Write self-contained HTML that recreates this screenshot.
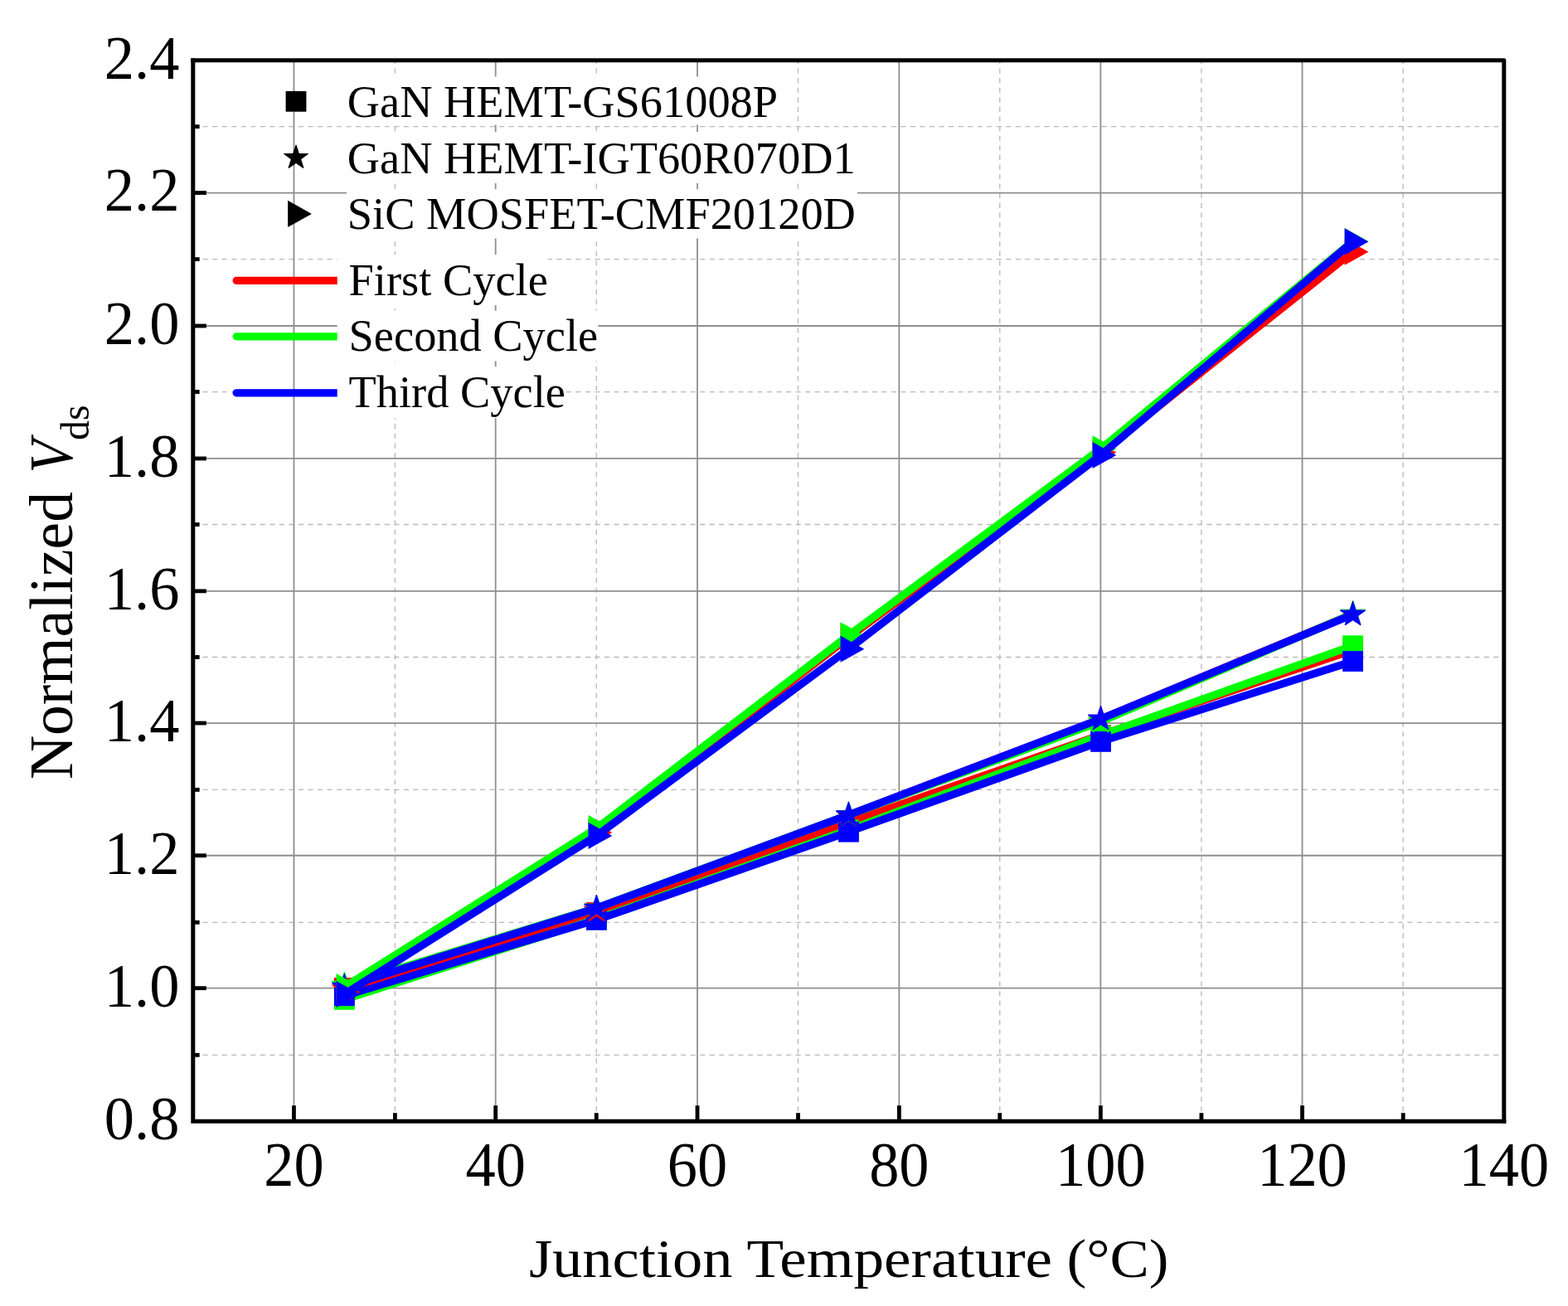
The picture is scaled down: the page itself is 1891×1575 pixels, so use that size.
<!DOCTYPE html>
<html lang="en"><head><meta charset="utf-8"><title>Normalized Vds vs Junction Temperature</title>
<style>html,body{margin:0;padding:0;background:#fff}body{width:1891px;height:1575px;overflow:hidden}svg{display:block}text{font-family:"Liberation Serif","Times New Roman",serif;fill:#000}</style></head><body>
<svg width="1891" height="1575" viewBox="0 0 1891 1575">
<rect width="1891" height="1575" fill="#fff"/>
<g fill="none">
<g stroke="#b9b9b9" stroke-width="1.35">
<line x1="476.40" y1="70.93" x2="476.40" y2="1352.30" stroke-dasharray="6.1 5.49"/>
<line x1="719.26" y1="70.93" x2="719.26" y2="1352.30" stroke-dasharray="6.1 5.49"/>
<line x1="962.49" y1="70.93" x2="962.49" y2="1352.30" stroke-dasharray="6.1 5.49"/>
<line x1="1205.72" y1="70.93" x2="1205.72" y2="1352.30" stroke-dasharray="6.1 5.49"/>
<line x1="1448.90" y1="70.93" x2="1448.90" y2="1352.30" stroke-dasharray="6.1 5.49"/>
<line x1="1692.18" y1="70.93" x2="1692.18" y2="1352.30" stroke-dasharray="6.1 5.49"/>
<line x1="233.07" y1="1272.33" x2="1813.80" y2="1272.33" stroke-dasharray="6.1 5.431"/>
<line x1="233.07" y1="1112.38" x2="1813.80" y2="1112.38" stroke-dasharray="6.1 5.431"/>
<line x1="233.07" y1="952.42" x2="1813.80" y2="952.42" stroke-dasharray="6.1 5.431"/>
<line x1="233.07" y1="792.48" x2="1813.80" y2="792.48" stroke-dasharray="6.1 5.431"/>
<line x1="233.07" y1="632.52" x2="1813.80" y2="632.52" stroke-dasharray="6.1 5.431"/>
<line x1="233.07" y1="472.58" x2="1813.80" y2="472.58" stroke-dasharray="6.1 5.431"/>
<line x1="233.07" y1="312.62" x2="1813.80" y2="312.62" stroke-dasharray="6.1 5.431"/>
<line x1="233.07" y1="152.67" x2="1813.80" y2="152.67" stroke-dasharray="6.1 5.431"/>
</g>
<g stroke="#8e8e8e" stroke-width="1.8">
<line x1="354.45" y1="72.70" x2="354.45" y2="1352.30"/>
<line x1="597.68" y1="72.70" x2="597.68" y2="1352.30"/>
<line x1="841.00" y1="72.70" x2="841.00" y2="1352.30"/>
<line x1="1084.35" y1="72.70" x2="1084.35" y2="1352.30"/>
<line x1="1327.34" y1="72.70" x2="1327.34" y2="1352.30"/>
<line x1="1570.52" y1="72.70" x2="1570.52" y2="1352.30"/>
<line x1="232.80" y1="1191.70" x2="1813.80" y2="1191.70"/>
<line x1="232.80" y1="1031.75" x2="1813.80" y2="1031.75"/>
<line x1="232.80" y1="872.05" x2="1813.80" y2="872.05"/>
<line x1="232.80" y1="712.85" x2="1813.80" y2="712.85"/>
<line x1="232.80" y1="552.95" x2="1813.80" y2="552.95"/>
<line x1="232.80" y1="393.00" x2="1813.80" y2="393.00"/>
<line x1="232.80" y1="232.55" x2="1813.80" y2="232.55"/>
</g></g>
<g stroke-linejoin="round" stroke-linecap="round">
<polyline fill="none" stroke="#ff0000" stroke-width="9.30" points="415.37,1191.40 719.41,1100.50 1023.45,992.00 1327.49,886.40 1631.53,784.00"/>
<g fill="#ff0000"><rect x="402.97" y="1179.00" width="24.80" height="24.80"/><rect x="707.01" y="1088.10" width="24.80" height="24.80"/><rect x="1011.05" y="979.60" width="24.80" height="24.80"/><rect x="1315.09" y="874.00" width="24.80" height="24.80"/><rect x="1619.13" y="771.60" width="24.80" height="24.80"/></g>
<polyline fill="none" stroke="#00ff00" stroke-width="9.30" points="415.37,1205.40 719.41,1108.40 1023.45,1000.80 1327.49,886.90 1631.53,778.70"/>
<g fill="#00ff00"><rect x="402.97" y="1193.00" width="24.80" height="24.80"/><rect x="707.01" y="1096.00" width="24.80" height="24.80"/><rect x="1011.05" y="988.40" width="24.80" height="24.80"/><rect x="1315.09" y="874.50" width="24.80" height="24.80"/><rect x="1619.13" y="766.30" width="24.80" height="24.80"/></g>
<polyline fill="none" stroke="#0000ff" stroke-width="9.30" points="415.37,1200.80 719.41,1109.40 1023.45,1003.20 1327.49,894.40 1631.53,797.50"/>
<g fill="#0000ff"><rect x="402.97" y="1188.40" width="24.80" height="24.80"/><rect x="707.01" y="1097.00" width="24.80" height="24.80"/><rect x="1011.05" y="990.80" width="24.80" height="24.80"/><rect x="1315.09" y="882.00" width="24.80" height="24.80"/><rect x="1619.13" y="785.10" width="24.80" height="24.80"/></g>
<polyline fill="none" stroke="#ff0000" stroke-width="9.30" points="415.37,1192.60 719.41,1098.00 1023.45,983.20 1327.49,867.40 1631.53,740.60"/>
<g fill="#ff0000"><polygon points="414.89,1176.50 415.86,1176.50 419.32,1187.16 430.53,1187.16 430.84,1188.09 421.77,1194.68 425.23,1205.34 424.44,1205.91 415.37,1199.82 406.30,1205.91 405.52,1205.34 408.98,1194.68 399.91,1188.09 400.21,1187.16 411.42,1187.16"/><polygon points="718.92,1081.90 719.90,1081.90 723.36,1092.56 734.57,1092.56 734.87,1093.49 725.81,1100.08 729.27,1110.74 728.48,1111.31 719.41,1105.22 710.34,1111.31 709.55,1110.74 713.02,1100.08 703.95,1093.49 704.25,1092.56 715.46,1092.56"/><polygon points="1022.96,967.10 1023.94,967.10 1027.40,977.76 1038.61,977.76 1038.91,978.69 1029.84,985.28 1033.31,995.94 1032.52,996.51 1023.45,990.42 1014.38,996.51 1013.59,995.94 1017.06,985.28 1007.99,978.69 1008.29,977.76 1019.50,977.76"/><polygon points="1327.00,851.30 1327.98,851.30 1331.44,861.96 1342.65,861.96 1342.95,862.89 1333.88,869.48 1337.35,880.14 1336.56,880.71 1327.49,874.62 1318.42,880.71 1317.63,880.14 1321.09,869.48 1312.03,862.89 1312.33,861.96 1323.54,861.96"/><polygon points="1631.04,724.50 1632.01,724.50 1635.48,735.16 1646.69,735.16 1646.99,736.09 1637.92,742.68 1641.38,753.34 1640.60,753.91 1631.53,747.82 1622.46,753.91 1621.67,753.34 1625.13,742.68 1616.06,736.09 1616.37,735.16 1627.58,735.16"/></g>
<polyline fill="none" stroke="#00ff00" stroke-width="9.30" points="415.37,1188.20 719.41,1095.00 1023.45,982.80 1327.49,870.20 1631.53,740.30"/>
<g fill="#00ff00"><polygon points="414.89,1172.10 415.86,1172.10 419.32,1182.76 430.53,1182.76 430.84,1183.69 421.77,1190.28 425.23,1200.94 424.44,1201.51 415.37,1195.42 406.30,1201.51 405.52,1200.94 408.98,1190.28 399.91,1183.69 400.21,1182.76 411.42,1182.76"/><polygon points="718.92,1078.90 719.90,1078.90 723.36,1089.56 734.57,1089.56 734.87,1090.49 725.81,1097.08 729.27,1107.74 728.48,1108.31 719.41,1102.22 710.34,1108.31 709.55,1107.74 713.02,1097.08 703.95,1090.49 704.25,1089.56 715.46,1089.56"/><polygon points="1022.96,966.70 1023.94,966.70 1027.40,977.36 1038.61,977.36 1038.91,978.29 1029.84,984.88 1033.31,995.54 1032.52,996.11 1023.45,990.02 1014.38,996.11 1013.59,995.54 1017.06,984.88 1007.99,978.29 1008.29,977.36 1019.50,977.36"/><polygon points="1327.00,854.10 1327.98,854.10 1331.44,864.76 1342.65,864.76 1342.95,865.69 1333.88,872.28 1337.35,882.94 1336.56,883.51 1327.49,877.42 1318.42,883.51 1317.63,882.94 1321.09,872.28 1312.03,865.69 1312.33,864.76 1323.54,864.76"/><polygon points="1631.04,724.20 1632.01,724.20 1635.48,734.86 1646.69,734.86 1646.99,735.79 1637.92,742.38 1641.38,753.04 1640.60,753.61 1631.53,747.52 1622.46,753.61 1621.67,753.04 1625.13,742.38 1616.06,735.79 1616.37,734.86 1627.58,734.86"/></g>
<polyline fill="none" stroke="#0000ff" stroke-width="9.30" points="415.37,1190.10 719.41,1095.10 1023.45,982.80 1327.49,867.00 1631.53,741.00"/>
<g fill="#0000ff"><polygon points="414.89,1174.00 415.86,1174.00 419.32,1184.66 430.53,1184.66 430.84,1185.59 421.77,1192.18 425.23,1202.84 424.44,1203.41 415.37,1197.32 406.30,1203.41 405.52,1202.84 408.98,1192.18 399.91,1185.59 400.21,1184.66 411.42,1184.66"/><polygon points="718.92,1079.00 719.90,1079.00 723.36,1089.66 734.57,1089.66 734.87,1090.59 725.81,1097.18 729.27,1107.84 728.48,1108.41 719.41,1102.32 710.34,1108.41 709.55,1107.84 713.02,1097.18 703.95,1090.59 704.25,1089.66 715.46,1089.66"/><polygon points="1022.96,966.70 1023.94,966.70 1027.40,977.36 1038.61,977.36 1038.91,978.29 1029.84,984.88 1033.31,995.54 1032.52,996.11 1023.45,990.02 1014.38,996.11 1013.59,995.54 1017.06,984.88 1007.99,978.29 1008.29,977.36 1019.50,977.36"/><polygon points="1327.00,850.90 1327.98,850.90 1331.44,861.56 1342.65,861.56 1342.95,862.49 1333.88,869.08 1337.35,879.74 1336.56,880.31 1327.49,874.22 1318.42,880.31 1317.63,879.74 1321.09,869.08 1312.03,862.49 1312.33,861.56 1323.54,861.56"/><polygon points="1631.04,724.90 1632.01,724.90 1635.48,735.56 1646.69,735.56 1646.99,736.49 1637.92,743.08 1641.38,753.74 1640.60,754.31 1631.53,748.22 1622.46,754.31 1621.67,753.74 1625.13,743.08 1616.06,736.49 1616.37,735.56 1627.58,735.56"/></g>
<polyline fill="none" stroke="#ff0000" stroke-width="9.30" points="415.37,1196.50 719.41,1004.00 1023.45,768.70 1327.49,545.50 1631.53,303.70"/>
<g fill="#ff0000"><polygon points="405.47,1180.40 434.22,1196.50 405.47,1212.60"/><polygon points="709.51,987.90 738.26,1004.00 709.51,1020.10"/><polygon points="1013.55,752.60 1042.30,768.70 1013.55,784.80"/><polygon points="1317.59,529.40 1346.34,545.50 1317.59,561.60"/><polygon points="1621.63,287.60 1650.38,303.70 1621.63,319.80"/></g>
<polyline fill="none" stroke="#00ff00" stroke-width="9.30" points="415.37,1190.10 719.41,999.00 1023.45,766.30 1327.49,541.30 1631.53,291.00"/>
<g fill="#00ff00"><polygon points="405.47,1174.00 434.22,1190.10 405.47,1206.20"/><polygon points="709.51,982.90 738.26,999.00 709.51,1015.10"/><polygon points="1013.55,750.20 1042.30,766.30 1013.55,782.40"/><polygon points="1317.59,525.20 1346.34,541.30 1317.59,557.40"/><polygon points="1621.63,274.90 1650.38,291.00 1621.63,307.10"/></g>
<polyline fill="none" stroke="#0000ff" stroke-width="9.30" points="415.37,1199.00 719.41,1007.90 1023.45,782.70 1327.49,549.00 1631.53,291.40"/>
<g fill="#0000ff"><polygon points="405.47,1182.90 434.22,1199.00 405.47,1215.10"/><polygon points="709.51,991.80 738.26,1007.90 709.51,1024.00"/><polygon points="1013.55,766.60 1042.30,782.70 1013.55,798.80"/><polygon points="1317.59,532.90 1346.34,549.00 1317.59,565.10"/><polygon points="1621.63,275.30 1650.38,291.40 1621.63,307.50"/></g>
</g>
<g stroke="#000" stroke-width="4.8" fill="none">
<line x1="354.45" y1="1352.30" x2="354.45" y2="1333.25"/>
<line x1="597.68" y1="1352.30" x2="597.68" y2="1333.25"/>
<line x1="841.00" y1="1352.30" x2="841.00" y2="1333.25"/>
<line x1="1084.35" y1="1352.30" x2="1084.35" y2="1333.25"/>
<line x1="1327.34" y1="1352.30" x2="1327.34" y2="1333.25"/>
<line x1="1570.52" y1="1352.30" x2="1570.52" y2="1333.25"/>
<line x1="476.40" y1="1352.30" x2="476.40" y2="1342.2"/>
<line x1="719.26" y1="1352.30" x2="719.26" y2="1342.2"/>
<line x1="962.49" y1="1352.30" x2="962.49" y2="1342.2"/>
<line x1="1205.72" y1="1352.30" x2="1205.72" y2="1342.2"/>
<line x1="1448.90" y1="1352.30" x2="1448.90" y2="1342.2"/>
<line x1="1692.18" y1="1352.30" x2="1692.18" y2="1342.2"/>
<line x1="232.80" y1="1191.70" x2="248.85" y2="1191.70"/>
<line x1="232.80" y1="1031.75" x2="248.85" y2="1031.75"/>
<line x1="232.80" y1="872.05" x2="248.85" y2="872.05"/>
<line x1="232.80" y1="712.85" x2="248.85" y2="712.85"/>
<line x1="232.80" y1="552.95" x2="248.85" y2="552.95"/>
<line x1="232.80" y1="393.00" x2="248.85" y2="393.00"/>
<line x1="232.80" y1="232.55" x2="248.85" y2="232.55"/>
<line x1="232.80" y1="1272.33" x2="240.65" y2="1272.33"/>
<line x1="232.80" y1="1112.38" x2="240.65" y2="1112.38"/>
<line x1="232.80" y1="952.42" x2="240.65" y2="952.42"/>
<line x1="232.80" y1="792.48" x2="240.65" y2="792.48"/>
<line x1="232.80" y1="632.52" x2="240.65" y2="632.52"/>
<line x1="232.80" y1="472.58" x2="240.65" y2="472.58"/>
<line x1="232.80" y1="312.62" x2="240.65" y2="312.62"/>
<line x1="232.80" y1="152.67" x2="240.65" y2="152.67"/>
</g>
<g fill="none" stroke="#000" stroke-width="5.00">
<path d="M230.30 72.70H1813.80V1354.80" stroke-linejoin="round"/>
<path d="M232.80 70.20V1352.30H1816.30" stroke-linejoin="miter"/>
</g>
<g font-size="72.40" text-anchor="middle">
<text transform="translate(171.1,1374.20) scale(1,1.03)">0.8</text>
<text transform="translate(171.1,1213.60) scale(1,1.03)">1.0</text>
<text transform="translate(171.1,1053.65) scale(1,1.03)">1.2</text>
<text transform="translate(171.1,893.95) scale(1,1.03)">1.4</text>
<text transform="translate(171.1,734.75) scale(1,1.03)">1.6</text>
<text transform="translate(171.1,574.85) scale(1,1.03)">1.8</text>
<text transform="translate(171.1,414.90) scale(1,1.03)">2.0</text>
<text transform="translate(171.1,254.45) scale(1,1.03)">2.2</text>
<text transform="translate(171.1,94.60) scale(1,1.03)">2.4</text>
<text transform="translate(354.45,1430) scale(1,1.04)">20</text>
<text transform="translate(597.68,1430) scale(1,1.04)">40</text>
<text transform="translate(841.00,1430) scale(1,1.04)">60</text>
<text transform="translate(1084.35,1430) scale(1,1.04)">80</text>
<text transform="translate(1327.34,1430) scale(1,1.04)">100</text>
<text transform="translate(1570.52,1430) scale(1,1.04)">120</text>
<text transform="translate(1813.80,1430) scale(1,1.04)">140</text>
</g>
<text y="1539.8" font-size="65.4"><tspan x="637.90" textLength="245.70" lengthAdjust="spacingAndGlyphs">Junction</tspan> <tspan x="900.60" textLength="368.50" lengthAdjust="spacingAndGlyphs">Temperature</tspan> <tspan x="1286.50" textLength="123.00" lengthAdjust="spacingAndGlyphs">(°C)</tspan></text>
<text transform="translate(87.4,0) rotate(-90)" font-size="73.5"><tspan x="-940.00" textLength="347.00" lengthAdjust="spacingAndGlyphs">Normalized</tspan> <tspan x="-570.60" textLength="40.30" lengthAdjust="spacingAndGlyphs" font-style="italic">V</tspan><tspan x="-531.00" dy="20" textLength="42.50" lengthAdjust="spacingAndGlyphs" font-size="47.5">ds</tspan></text>
<g font-size="54.40">
<rect x="418.1" y="92.40" width="521.90" height="58.00" fill="#fff"/>
<g fill="#000"><rect x="344.60" y="109.90" width="24.80" height="24.80"/></g>
<text x="418.8" y="140.50">GaN HEMT-GS61008P</text>
<rect x="418.1" y="159.00" width="611.90" height="61.90" fill="#fff"/>
<g fill="#000"><polygon points="356.50,174.70 357.50,174.70 360.82,184.90 371.54,184.90 371.85,185.85 363.18,192.16 366.49,202.35 365.67,202.95 357.00,197.12 348.33,202.95 347.51,202.35 350.82,192.16 342.15,185.85 342.46,184.90 353.18,184.90"/></g>
<text x="418.8" y="208.50">GaN HEMT-IGT60R070D1</text>
<rect x="418.1" y="228.10" width="615.90" height="59.40" fill="#fff"/>
<g fill="#000"><polygon points="347.10,241.80 375.85,257.90 347.10,274.00"/></g>
<text x="418.8" y="276.10">SiC MOSFET-CMF20120D</text>
<line x1="285.2" y1="338.40" x2="415" y2="338.40" stroke="#ff0000" stroke-width="9.3" stroke-linecap="round"/>
<rect x="406.7" y="307.20" width="253.80" height="60.80" fill="#fff"/>
<text x="420.6" y="355.60">First Cycle</text>
<line x1="285.2" y1="405.80" x2="415" y2="405.80" stroke="#00ff00" stroke-width="9.3" stroke-linecap="round"/>
<rect x="406.7" y="374.60" width="314.70" height="60.80" fill="#fff"/>
<text x="420.6" y="423.00">Second Cycle</text>
<line x1="285.2" y1="473.80" x2="415" y2="473.80" stroke="#0000ff" stroke-width="9.3" stroke-linecap="round"/>
<rect x="406.7" y="442.00" width="274.80" height="62.20" fill="#fff"/>
<text x="420.6" y="491.00">Third Cycle</text>
</g>
</svg></body></html>
